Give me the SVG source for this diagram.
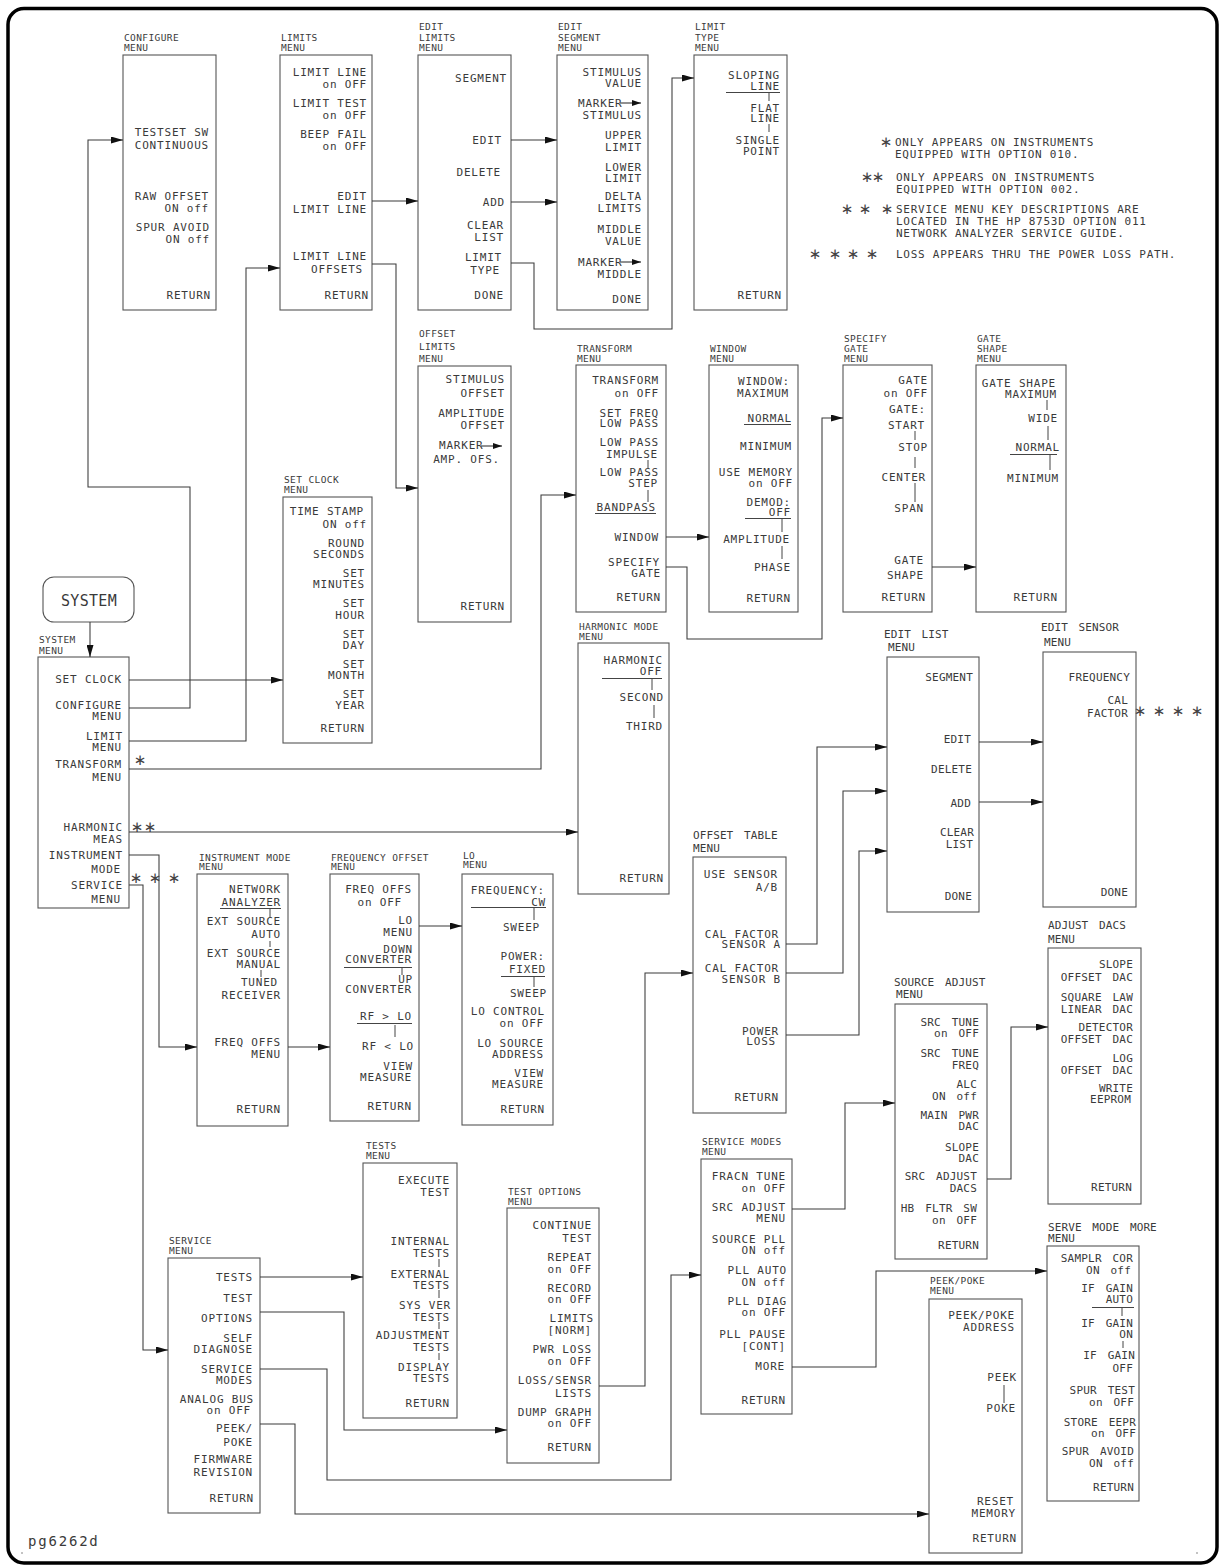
<svg xmlns="http://www.w3.org/2000/svg" width="1225" height="1568" viewBox="0 0 1225 1568">
<style>
text{font-family:"DejaVu Sans Mono","Liberation Mono",monospace;fill:#3a3a3a}
.t{font-size:9.5px;letter-spacing:0.4px}
.t2{font-size:11px;letter-spacing:0.1px;word-spacing:4px}
.k text{font-size:11px;letter-spacing:0.8px;text-anchor:end}
.q text{font-size:11px;letter-spacing:0.2px;word-spacing:4px;text-anchor:end}
.k text.s,.q text.s{text-anchor:start}
.n{font-size:11px;letter-spacing:0.75px}
.ast{font-family:"DejaVu Sans",sans-serif;font-size:15px;text-anchor:middle;fill:#444}
.box{fill:none;stroke:#555;stroke-width:1.1}
.tk{stroke:#444;stroke-width:1;fill:none}
.c{fill:none;stroke:#3a3a3a;stroke-width:1.05;marker-end:url(#ah)}
.ma{stroke:#222;stroke-width:1;marker-end:url(#sm)}
</style>
<defs>
<marker id="ah" viewBox="0 0 12 7" refX="12" refY="3.5" markerWidth="12" markerHeight="7" markerUnits="userSpaceOnUse" orient="auto"><path d="M0,0 L12,3.5 L0,7 z" fill="#111"/></marker>
<marker id="sm" viewBox="0 0 9 6" refX="9" refY="3" markerWidth="9" markerHeight="6" markerUnits="userSpaceOnUse" orient="auto"><path d="M0,0 L9,3 L0,6 z" fill="#111"/></marker>
</defs>
<rect x="8" y="8.5" width="1209" height="1554.5" rx="16" fill="#fff" stroke="#000" stroke-width="3.5"/>
<circle cx="22" cy="1553" r="0.8" fill="#777"/>
<circle cx="1197" cy="1553" r="0.8" fill="#777"/>
<text x="28" y="1546" style="font-size:14px;letter-spacing:1.8px">pg6262d</text>

<g id="notes">
<text class="ast" x="886" y="147">∗</text>
<text class="n" x="895" y="146">ONLY APPEARS ON INSTRUMENTS</text>
<text class="n" x="895" y="158">EQUIPPED WITH OPTION 010.</text>
<text class="ast" x="867" y="182">∗</text><text class="ast" x="878" y="182">∗</text>
<text class="n" x="896" y="181">ONLY APPEARS ON INSTRUMENTS</text>
<text class="n" x="896" y="193">EQUIPPED WITH OPTION 002.</text>
<text class="ast" x="847" y="214">∗</text><text class="ast" x="865" y="214">∗</text><text class="ast" x="887" y="214">∗</text>
<text class="n" x="896" y="213">SERVICE MENU KEY DESCRIPTIONS ARE</text>
<text class="n" x="896" y="225">LOCATED IN THE HP 8753D OPTION 011</text>
<text class="n" x="896" y="237">NETWORK ANALYZER SERVICE GUIDE.</text>
<text class="ast" x="815" y="259">∗</text><text class="ast" x="835" y="259">∗</text><text class="ast" x="853" y="259">∗</text><text class="ast" x="872" y="259">∗</text>
<text class="n" x="896" y="258">LOSS APPEARS THRU THE POWER LOSS PATH.</text>
<text class="ast" x="140" y="765">∗</text>
<text class="ast" x="137" y="832">∗</text><text class="ast" x="150" y="832">∗</text>
<text class="ast" x="136" y="883">∗</text><text class="ast" x="155" y="883">∗</text><text class="ast" x="174" y="883">∗</text>
<text class="ast" x="1140" y="716">∗</text><text class="ast" x="1159" y="716">∗</text><text class="ast" x="1178" y="716">∗</text><text class="ast" x="1197" y="716">∗</text>
</g>

<g id="configure">
<text class="t" x="124" y="41">CONFIGURE</text><text class="t" x="124" y="51">MENU</text>
<rect class="box" x="123" y="55" width="93" height="255"/>
<g class="k">
<text x="209" y="136">TESTSET SW</text><text x="209" y="149">CONTINUOUS</text>
<text x="209" y="200">RAW OFFSET</text><text x="209" y="212">ON off</text>
<text x="210" y="231">SPUR AVOID</text><text x="210" y="243">ON off</text>
<text x="211" y="299">RETURN</text>
</g></g>

<g id="limits">
<text class="t" x="281" y="41">LIMITS</text><text class="t" x="281" y="51">MENU</text>
<rect class="box" x="280" y="55" width="92" height="255"/>
<g class="k">
<text x="367" y="76">LIMIT LINE</text><text x="367" y="88">on OFF</text>
<text x="367" y="107">LIMIT TEST</text><text x="367" y="119">on OFF</text>
<text x="367" y="138">BEEP FAIL</text><text x="367" y="150">on OFF</text>
<text x="367" y="200">EDIT</text><text x="367" y="213">LIMIT LINE</text>
<text x="367" y="260">LIMIT LINE</text><text x="363" y="273">OFFSETS</text>
<text x="369" y="299">RETURN</text>
</g></g>

<g id="editlimits">
<text class="t" x="419" y="30">EDIT</text><text class="t" x="419" y="41">LIMITS</text><text class="t" x="419" y="51">MENU</text>
<rect class="box" x="418" y="55" width="93" height="255"/>
<g class="k">
<text x="507" y="82">SEGMENT</text>
<text x="502" y="144">EDIT</text>
<text x="501" y="176">DELETE</text>
<text x="505" y="206">ADD</text>
<text x="504" y="229">CLEAR</text><text x="504" y="241">LIST</text>
<text x="502" y="261">LIMIT</text><text x="500" y="274">TYPE</text>
<text x="504" y="299">DONE</text>
</g></g>

<g id="editsegment">
<text class="t" x="558" y="30">EDIT</text><text class="t" x="558" y="41">SEGMENT</text><text class="t" x="558" y="51">MENU</text>
<rect class="box" x="557" y="55" width="91" height="255"/>
<g class="k">
<text x="642" y="76">STIMULUS</text><text x="642" y="87">VALUE</text>
<text class="s" x="578" y="107">MARKER</text><text x="642" y="119">STIMULUS</text>
<text x="642" y="139">UPPER</text><text x="642" y="151">LIMIT</text>
<text x="642" y="171">LOWER</text><text x="642" y="182">LIMIT</text>
<text x="642" y="200">DELTA</text><text x="642" y="212">LIMITS</text>
<text x="642" y="233">MIDDLE</text><text x="642" y="245">VALUE</text>
<text class="s" x="578" y="266">MARKER</text><text x="642" y="278">MIDDLE</text>
<text x="642" y="303">DONE</text>
</g>
<line class="ma" x1="620" y1="103" x2="641" y2="103"/>
<line class="ma" x1="620" y1="262" x2="641" y2="262"/>
</g>

<g id="limittype">
<text class="t" x="695" y="30">LIMIT</text><text class="t" x="695" y="41">TYPE</text><text class="t" x="695" y="51">MENU</text>
<rect class="box" x="694" y="55" width="93" height="255"/>
<g class="k">
<text x="780" y="79">SLOPING</text><text x="780" y="90">LINE</text>
<text x="780" y="112">FLAT</text><text x="780" y="122">LINE</text>
<text x="780" y="144">SINGLE</text><text x="780" y="155">POINT</text>
<text x="782" y="299">RETURN</text>
</g>
<path class="tk" d="M726,92.5 H780 M769,93 V101 M769,124 V132"/>
</g>

<g id="offsetlimits">
<text class="t" x="419" y="337">OFFSET</text><text class="t" x="419" y="350">LIMITS</text><text class="t" x="419" y="362">MENU</text>
<rect class="box" x="418" y="366" width="93" height="256"/>
<g class="k">
<text x="505" y="383">STIMULUS</text><text x="505" y="397">OFFSET</text>
<text x="505" y="417">AMPLITUDE</text><text x="505" y="429">OFFSET</text>
<text class="s" x="439" y="449">MARKER</text><text x="500" y="463">AMP. OFS.</text>
<text x="505" y="610">RETURN</text>
</g>
<line class="ma" x1="481" y1="446" x2="502" y2="446"/>
</g>

<g id="transform">
<text class="t" x="577" y="352">TRANSFORM</text><text class="t" x="577" y="362">MENU</text>
<rect class="box" x="576" y="365" width="90" height="247"/>
<g class="k">
<text x="659" y="384">TRANSFORM</text><text x="659" y="397">on OFF</text>
<text x="659" y="417">SET FREQ</text><text x="659" y="427">LOW PASS</text>
<text x="659" y="446">LOW PASS</text><text x="658" y="458">IMPULSE</text>
<text x="659" y="476">LOW PASS</text><text x="658" y="487">STEP</text>
<text x="656" y="511">BANDPASS</text>
<text x="659" y="541">WINDOW</text>
<text x="660" y="566">SPECIFY</text><text x="661" y="577">GATE</text>
<text x="661" y="601">RETURN</text>
</g>
<path class="tk" d="M648,460 V468 M648,490 V502 M595,513.5 H656"/>
</g>

<g id="window">
<text class="t" x="710" y="352">WINDOW</text><text class="t" x="710" y="362">MENU</text>
<rect class="box" x="709" y="365" width="89" height="247"/>
<g class="k">
<text x="790" y="385">WINDOW:</text><text x="789" y="397">MAXIMUM</text>
<text x="792" y="422">NORMAL</text>
<text x="792" y="450">MINIMUM</text>
<text x="793" y="476">USE MEMORY</text><text x="793" y="487">on OFF</text>
<text x="791" y="506">DEMOD:</text><text x="791" y="516">OFF</text>
<text x="790" y="543">AMPLITUDE</text>
<text x="791" y="571">PHASE</text>
<text x="791" y="602">RETURN</text>
</g>
<path class="tk" d="M744,424.5 H791 M745,518.5 H791 M782,519 V532 M782,546 V559"/>
</g>

<g id="specifygate">
<text class="t" x="844" y="342">SPECIFY</text><text class="t" x="844" y="352">GATE</text><text class="t" x="844" y="362">MENU</text>
<rect class="box" x="843" y="365" width="89" height="247"/>
<g class="k">
<text x="928" y="384">GATE</text><text x="928" y="397">on OFF</text>
<text x="926" y="413">GATE:</text><text x="925" y="429">START</text>
<text x="928" y="451">STOP</text>
<text x="926" y="481">CENTER</text>
<text x="924" y="512">SPAN</text>
<text x="924" y="564">GATE</text><text x="924" y="579">SHAPE</text>
<text x="926" y="601">RETURN</text>
</g>
<path class="tk" d="M915,431 V440 M915,457 V468 M915,483 V502"/>
</g>

<g id="gateshape">
<text class="t" x="977" y="342">GATE</text><text class="t" x="977" y="352">SHAPE</text><text class="t" x="977" y="362">MENU</text>
<rect class="box" x="976" y="365" width="90" height="247"/>
<g class="k">
<text x="1056" y="387">GATE SHAPE</text><text x="1057" y="398">MAXIMUM</text>
<text x="1058" y="422">WIDE</text>
<text x="1060" y="451">NORMAL</text>
<text x="1059" y="482">MINIMUM</text>
<text x="1058" y="601">RETURN</text>
</g>
<path class="tk" d="M1047,400 V410 M1048,426 V440 M1010,454.5 H1057 M1050,455 V470"/>
</g>

<g id="harmonic">
<text class="t" x="579" y="630">HARMONIC MODE</text><text class="t" x="579" y="640">MENU</text>
<rect class="box" x="578" y="643" width="91" height="251"/>
<g class="k">
<text x="663" y="664">HARMONIC</text><text x="662" y="675">OFF</text>
<text x="664" y="701">SECOND</text>
<text x="663" y="730">THIRD</text>
<text x="664" y="882">RETURN</text>
</g>
<path class="tk" d="M602,678.5 H662 M652,679 V690 M654,705 V718"/>
</g>

<g id="system">
<rect class="box" x="43" y="577" width="91" height="45" rx="11"/>
<text x="89" y="606" style="font-size:15px;letter-spacing:0.3px;text-anchor:middle">SYSTEM</text>
</g>

<g id="systemmenu">
<text class="t" x="39" y="643">SYSTEM</text><text class="t" x="39" y="654">MENU</text>
<rect class="box" x="38" y="657" width="91" height="251"/>
<g class="k">
<text x="122" y="683">SET CLOCK</text>
<text x="122" y="709">CONFIGURE</text><text x="122" y="720">MENU</text>
<text x="123" y="740">LIMIT</text><text x="122" y="751">MENU</text>
<text x="122" y="768">TRANSFORM</text><text x="122" y="781">MENU</text>
<text x="123" y="831">HARMONIC</text><text x="123" y="843">MEAS</text>
<text x="123" y="859">INSTRUMENT</text><text x="121" y="873">MODE</text>
<text x="123" y="889">SERVICE</text><text x="121" y="903">MENU</text>
</g></g>

<g id="setclock">
<text class="t" x="284" y="483">SET CLOCK</text><text class="t" x="284" y="493">MENU</text>
<rect class="box" x="283" y="497" width="89" height="246"/>
<g class="k">
<text x="364" y="515">TIME STAMP</text><text x="367" y="528">ON off</text>
<text x="365" y="547">ROUND</text><text x="365" y="558">SECONDS</text>
<text x="365" y="577">SET</text><text x="365" y="588">MINUTES</text>
<text x="365" y="607">SET</text><text x="365" y="619">HOUR</text>
<text x="365" y="638">SET</text><text x="365" y="649">DAY</text>
<text x="365" y="668">SET</text><text x="365" y="679">MONTH</text>
<text x="365" y="698">SET</text><text x="365" y="709">YEAR</text>
<text x="365" y="732">RETURN</text>
</g></g>

<g id="instrumentmode">
<text class="t" x="199" y="861">INSTRUMENT MODE</text><text class="t" x="199" y="870">MENU</text>
<rect class="box" x="197" y="874" width="91" height="252"/>
<g class="k">
<text x="281" y="893">NETWORK</text><text x="281" y="906">ANALYZER</text>
<text x="281" y="925">EXT SOURCE</text><text x="281" y="938">AUTO</text>
<text x="281" y="957">EXT SOURCE</text><text x="281" y="968">MANUAL</text>
<text x="278" y="986">TUNED</text><text x="281" y="999">RECEIVER</text>
<text x="281" y="1046">FREQ OFFS</text><text x="281" y="1058">MENU</text>
<text x="281" y="1113">RETURN</text>
</g>
<path class="tk" d="M220,908.5 H281 M270,909 V918 M270,941 V947 M261,970 V977"/>
</g>

<g id="freqoffset">
<text class="t" x="331" y="861">FREQUENCY OFFSET</text><text class="t" x="331" y="870">MENU</text>
<rect class="box" x="330" y="874" width="89" height="247"/>
<g class="k">
<text x="412" y="893">FREQ OFFS</text><text x="402" y="906">on OFF</text>
<text x="413" y="924">LO</text><text x="413" y="936">MENU</text>
<text x="413" y="953">DOWN</text><text x="412" y="963">CONVERTER</text>
<text x="413" y="983">UP</text><text x="412" y="993">CONVERTER</text>
<text x="412" y="1020">RF &gt; LO</text>
<text x="414" y="1050">RF &lt; LO</text>
<text x="413" y="1070">VIEW</text><text x="412" y="1081">MEASURE</text>
<text x="412" y="1110">RETURN</text>
</g>
<path class="tk" d="M344,967.5 H412 M402,968 V975 M357,1023.5 H412 M395,1025 V1037"/>
</g>

<g id="lomenu">
<text class="t" x="463" y="859">LO</text><text class="t" x="463" y="868">MENU</text>
<rect class="box" x="462" y="874" width="91" height="251"/>
<g class="k">
<text x="545" y="894">FREQUENCY:</text><text x="546" y="906">CW</text>
<text x="540" y="931">SWEEP</text>
<text x="545" y="960">POWER:</text><text x="546" y="973">FIXED</text>
<text x="547" y="997">SWEEP</text>
<text x="545" y="1015">LO CONTROL</text><text x="544" y="1027">on OFF</text>
<text x="544" y="1047">LO SOURCE</text><text x="544" y="1058">ADDRESS</text>
<text x="544" y="1077">VIEW</text><text x="544" y="1088">MEASURE</text>
<text x="545" y="1113">RETURN</text>
</g>
<path class="tk" d="M471,907.5 H546 M534,908 V920 M501,976.5 H545 M534,977 V987"/>
</g>

<g id="offsettable">
<text class="t2" x="693" y="839">OFFSET TABLE</text><text class="t2" x="693" y="852">MENU</text>
<rect class="box" x="693" y="857" width="93" height="256"/>
<g class="k">
<text x="778" y="878">USE SENSOR</text><text x="778" y="891">A/B</text>
<text x="779" y="938">CAL FACTOR</text><text x="781" y="948">SENSOR A</text>
<text x="779" y="972">CAL FACTOR</text><text x="781" y="983">SENSOR B</text>
<text x="779" y="1035">POWER</text><text x="776" y="1045">LOSS</text>
<text x="779" y="1101">RETURN</text>
</g></g>

<g id="editlist">
<text class="t2" x="884" y="638">EDIT LIST</text><text class="t2" x="888" y="651">MENU</text>
<rect class="box" x="887" y="657" width="92" height="255"/>
<g class="q">
<text x="973" y="681">SEGMENT</text>
<text x="971" y="743">EDIT</text>
<text x="972" y="773">DELETE</text>
<text x="971" y="807">ADD</text>
<text x="974" y="836">CLEAR</text><text x="973" y="848">LIST</text>
<text x="972" y="900">DONE</text>
</g></g>

<g id="editsensor">
<text class="t2" x="1041" y="631">EDIT SENSOR</text><text class="t2" x="1044" y="646">MENU</text>
<rect class="box" x="1043" y="652" width="93" height="255"/>
<g class="q">
<text x="1130" y="681">FREQUENCY</text>
<text x="1128" y="704">CAL</text><text x="1128" y="717">FACTOR</text>
<text x="1128" y="896">DONE</text>
</g></g>

<g id="adjustdacs">
<text class="t2" x="1048" y="929">ADJUST DACS</text><text class="t2" x="1048" y="943">MENU</text>
<rect class="box" x="1048" y="948" width="93" height="256"/>
<g class="q">
<text x="1133" y="968">SLOPE</text><text x="1133" y="981">OFFSET DAC</text>
<text x="1133" y="1001">SQUARE LAW</text><text x="1133" y="1013">LINEAR DAC</text>
<text x="1133" y="1031">DETECTOR</text><text x="1133" y="1043">OFFSET DAC</text>
<text x="1133" y="1062">LOG</text><text x="1133" y="1074">OFFSET DAC</text>
<text x="1133" y="1092">WRITE</text><text x="1131" y="1103">EEPROM</text>
<text x="1132" y="1191">RETURN</text>
</g></g>

<g id="sourceadjust">
<text class="t2" x="894" y="986">SOURCE ADJUST</text><text class="t2" x="896" y="998">MENU</text>
<rect class="box" x="895" y="1004" width="92" height="255"/>
<g class="q">
<text x="979" y="1026">SRC TUNE</text><text x="979" y="1037">on OFF</text>
<text x="979" y="1057">SRC TUNE</text><text x="979" y="1069">FREQ</text>
<text x="977" y="1088">ALC</text><text x="977" y="1100">ON off</text>
<text x="979" y="1119">MAIN PWR</text><text x="979" y="1130">DAC</text>
<text x="979" y="1151">SLOPE</text><text x="979" y="1162">DAC</text>
<text x="977" y="1180">SRC ADJUST</text><text x="977" y="1192">DACS</text>
<text x="977" y="1212">HB FLTR SW</text><text x="977" y="1224">on OFF</text>
<text x="979" y="1249">RETURN</text>
</g></g>

<g id="servemore">
<text class="t2" x="1048" y="1231">SERVE MODE MORE</text><text class="t2" x="1048" y="1242">MENU</text>
<rect class="box" x="1047" y="1246" width="92" height="255"/>
<g class="q">
<text x="1133" y="1262">SAMPLR COR</text><text x="1131" y="1274">ON off</text>
<text x="1133" y="1292">IF GAIN</text><text x="1133" y="1303">AUTO</text>
<text x="1133" y="1327">IF GAIN</text><text x="1133" y="1338">ON</text>
<text x="1135" y="1359">IF GAIN</text><text x="1133" y="1372">OFF</text>
<text x="1135" y="1394">SPUR TEST</text><text x="1134" y="1406">on OFF</text>
<text x="1136" y="1426">STORE EEPR</text><text x="1136" y="1437">on OFF</text>
<text x="1134" y="1455">SPUR AVOID</text><text x="1134" y="1467">ON off</text>
<text x="1134" y="1491">RETURN</text>
</g>
<path class="tk" d="M1092,1307.5 H1134 M1122,1308 V1316 M1123,1341 V1348"/>
</g>

<g id="peekpoke">
<text class="t" x="930" y="1284">PEEK/POKE</text><text class="t" x="930" y="1294">MENU</text>
<rect class="box" x="929" y="1299" width="93" height="254"/>
<g class="k">
<text x="1015" y="1319">PEEK/POKE</text><text x="1015" y="1331">ADDRESS</text>
<text x="1017" y="1381">PEEK</text><text x="1016" y="1412">POKE</text>
<text x="1014" y="1505">RESET</text><text x="1016" y="1517">MEMORY</text>
<text x="1017" y="1542">RETURN</text>
</g>
<path class="tk" d="M1004,1385 V1403"/>
</g>

<g id="servicemodes">
<text class="t" x="702" y="1145">SERVICE MODES</text><text class="t" x="702" y="1155">MENU</text>
<rect class="box" x="701" y="1159" width="91" height="255"/>
<g class="k">
<text x="786" y="1180">FRACN TUNE</text><text x="786" y="1192">on OFF</text>
<text x="786" y="1211">SRC ADJUST</text><text x="786" y="1222">MENU</text>
<text x="786" y="1243">SOURCE PLL</text><text x="786" y="1254">ON off</text>
<text x="787" y="1274">PLL AUTO</text><text x="786" y="1286">ON off</text>
<text x="787" y="1305">PLL DIAG</text><text x="786" y="1316">on OFF</text>
<text x="786" y="1338">PLL PAUSE</text><text x="786" y="1350">[CONT]</text>
<text x="785" y="1370">MORE</text>
<text x="786" y="1404">RETURN</text>
</g></g>

<g id="tests">
<text class="t" x="366" y="1149">TESTS</text><text class="t" x="366" y="1159">MENU</text>
<rect class="box" x="363" y="1163" width="94" height="255"/>
<g class="k">
<text x="450" y="1184">EXECUTE</text><text x="450" y="1196">TEST</text>
<text x="450" y="1245">INTERNAL</text><text x="450" y="1257">TESTS</text>
<text x="450" y="1278">EXTERNAL</text><text x="450" y="1289">TESTS</text>
<text x="451" y="1309">SYS VER</text><text x="450" y="1321">TESTS</text>
<text x="450" y="1339">ADJUSTMENT</text><text x="450" y="1351">TESTS</text>
<text x="450" y="1371">DISPLAY</text><text x="450" y="1382">TESTS</text>
<text x="450" y="1407">RETURN</text>
</g>
<path class="tk" d="M439,1259 V1267 M439,1290 V1298 M439,1322 V1329 M439,1353 V1360"/>
</g>

<g id="testoptions">
<text class="t" x="508" y="1195">TEST OPTIONS</text><text class="t" x="508" y="1205">MENU</text>
<rect class="box" x="507" y="1208" width="92" height="255"/>
<g class="k">
<text x="592" y="1229">CONTINUE</text><text x="592" y="1242">TEST</text>
<text x="592" y="1261">REPEAT</text><text x="592" y="1273">on OFF</text>
<text x="592" y="1292">RECORD</text><text x="592" y="1303">on OFF</text>
<text x="594" y="1322">LIMITS</text><text x="592" y="1334">[NORM]</text>
<text x="592" y="1353">PWR LOSS</text><text x="592" y="1365">on OFF</text>
<text x="592" y="1384">LOSS/SENSR</text><text x="592" y="1397">LISTS</text>
<text x="592" y="1416">DUMP GRAPH</text><text x="592" y="1427">on OFF</text>
<text x="592" y="1451">RETURN</text>
</g></g>

<g id="service">
<text class="t" x="169" y="1244">SERVICE</text><text class="t" x="169" y="1254">MENU</text>
<rect class="box" x="168" y="1258" width="92" height="255"/>
<g class="k">
<text x="253" y="1281">TESTS</text>
<text x="253" y="1302">TEST</text><text x="253" y="1322">OPTIONS</text>
<text x="253" y="1342">SELF</text><text x="253" y="1353">DIAGNOSE</text>
<text x="253" y="1373">SERVICE</text><text x="253" y="1384">MODES</text>
<text x="254" y="1403">ANALOG BUS</text><text x="251" y="1414">on OFF</text>
<text x="253" y="1432">PEEK/</text><text x="253" y="1446">POKE</text>
<text x="253" y="1463">FIRMWARE</text><text x="253" y="1476">REVISION</text>
<text x="254" y="1502">RETURN</text>
</g></g>

<g id="connectors">
<polyline class="c" points="90,622 90,657"/>
<polyline class="c" points="129,680 283,680"/>
<polyline class="c" points="129,708 190,708 190,487 88,487 88,140 123,140"/>
<polyline class="c" points="129,741 246,741 246,268 280,268"/>
<polyline class="c" points="129,769 541,769 541,495 576,495"/>
<polyline class="c" points="129,832 578,832"/>
<polyline class="c" points="129,855 159,855 159,1047 197,1047"/>
<polyline class="c" points="129,885 143,885 143,1350 168,1350"/>
<polyline class="c" points="372,201 418,201"/>
<polyline class="c" points="372,264 396,264 396,488 418,488"/>
<polyline class="c" points="511,140 557,140"/>
<polyline class="c" points="511,202 557,202"/>
<polyline class="c" points="511,263 534,263 534,329 672,329 672,78 694,78"/>
<polyline class="c" points="666,537 709,537"/>
<polyline class="c" points="666,567 687,567 687,639 822,639 822,418 843,418"/>
<polyline class="c" points="932,567 976,567"/>
<polyline class="c" points="288,1047 330,1047"/>
<polyline class="c" points="419,926 462,926"/>
<polyline class="c" points="260,1277 363,1277"/>
<polyline class="c" points="260,1312 344,1312 344,1430 507,1430"/>
<polyline class="c" points="260,1369 327,1369 327,1480 671,1480 671,1275 701,1275"/>
<polyline class="c" points="260,1424 295,1424 295,1514 929,1514"/>
<polyline class="c" points="599,1386 645,1386 645,973 693,973"/>
<polyline class="c" points="786,944 817,944 817,747 887,747"/>
<polyline class="c" points="786,973 843,973 843,791 887,791"/>
<polyline class="c" points="786,1035 859,1035 859,851 887,851"/>
<polyline class="c" points="979,742 1043,742"/>
<polyline class="c" points="979,802 1043,802"/>
<polyline class="c" points="792,1209 845,1209 845,1103 895,1103"/>
<polyline class="c" points="987,1179 1011,1179 1011,1027 1048,1027"/>
<polyline class="c" points="792,1367 876,1367 876,1271 1047,1271"/>
</g>
</svg>
